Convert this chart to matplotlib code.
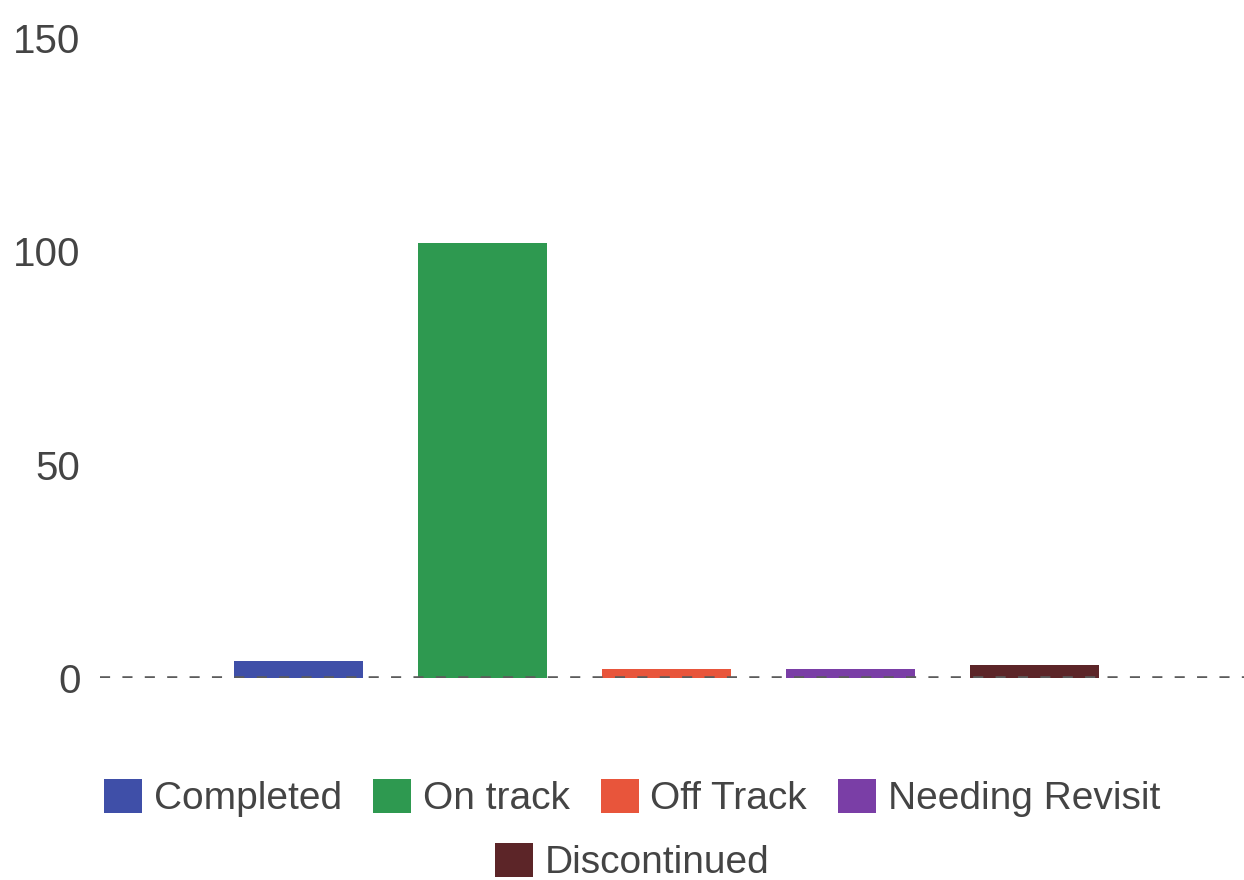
import matplotlib
matplotlib.use("Agg")
import matplotlib.pyplot as plt
from matplotlib.patches import Patch

# ── Data ─────────────────────────────────────────────────────────────────────
categories = ["Completed", "On track", "Off Track", "Needing Revisit", "Discontinued"]
counts = [4, 102, 2, 2, 3]
colors = ["#3f4fa8", "#2e9950", "#e8553b", "#7a3ea6", "#5c2528"]
y_ticks = [0, 50, 100, 150]

plt.rcParams["font.family"] = ["Liberation Sans", "DejaVu Sans"]

fig = plt.figure(figsize=(12.44, 8.8), dpi=100)
ax = fig.add_axes([100 / 1244, (880 - 678) / 880, 1 - 100 / 1244, 640 / 880])

x = list(range(len(categories)))
ax.bar(x, counts, width=0.7, color=colors, zorder=2)

# dashed zero line drawn over the bar bottoms
ax.axhline(0, color="#5c5c5c", lw=2.6, ls=(0, (2.8, 3.4)), zorder=3)

ax.set_xlim(-1.08, 5.14)
ax.set_ylim(0, 150)
ax.set_yticks(y_ticks)
ax.set_xticks([])
ax.tick_params(axis="y", length=0, pad=14, labelsize=29, labelcolor="#444444")
for s in ax.spines.values():
    s.set_visible(False)

# ── Legend: 4 on first row, last one centred below ──────────────────────────
handles = [Patch(facecolor=c, edgecolor="none") for c in colors]
leg_kw = dict(loc="center", frameon=False, fontsize=28, handlelength=0.98,
              handleheight=0.98, handletextpad=0.3, labelcolor="#444444")
fig.legend(handles[:4], categories[:4], bbox_to_anchor=(0.508, (880 - 798) / 880),
           ncol=4, columnspacing=0.8, **leg_kw)
fig.legend(handles[4:], categories[4:], bbox_to_anchor=(0.508, (880 - 862) / 880),
           **leg_kw)

fig.savefig("out.png", dpi=100)
